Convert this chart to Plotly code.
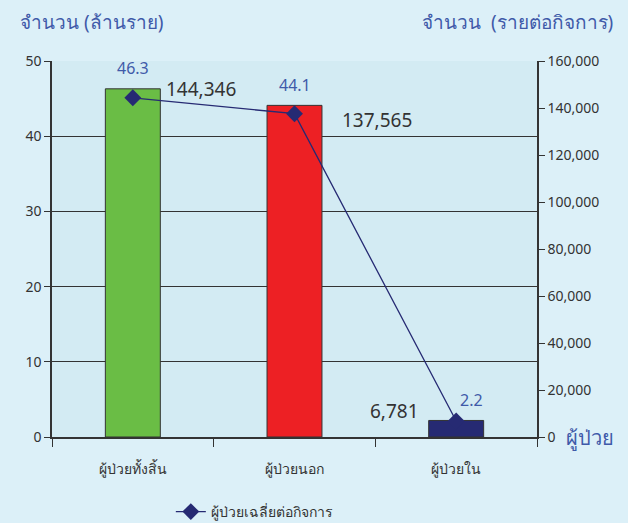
# ผู้ป่วยทั้งสิ้น / นอก / ใน: จำนวน (ล้านราย) และ ผู้ป่วยเฉลี่ยต่อกิจการ
import plotly.graph_objects as go

categories = ['ผู้ป่วยทั้งสิ้น', 'ผู้ป่วยนอก', 'ผู้ป่วยใน']
patients_million = [46.3, 44.1, 2.2]
avg_per_business = [144346, 137565, 6781]
bar_colors = ['#6abd45', '#ed2024', '#262a73']

font_main = 'Noto Sans, Tahoma, sans-serif'
blue_text = '#3f5aa9'
dark_text = '#333333'

fig = go.Figure()

# แท่ง: จำนวน (ล้านราย)
fig.add_trace(go.Bar(
    x=categories, y=patients_million,
    marker=dict(color=bar_colors, line=dict(color='#333333', width=1)),
    showlegend=False, hoverinfo='x+y'))

# เส้น: ผู้ป่วยเฉลี่ยต่อกิจการ
fig.add_trace(go.Scatter(
    x=categories, y=avg_per_business, yaxis='y2',
    mode='lines+markers', name='ผู้ป่วยเฉลี่ยต่อกิจการ',
    line=dict(color='#262a73', width=1.3),
    marker=dict(symbol='diamond', size=13, color='#262a73')))

# ป้ายค่าแท่ง (สีน้ำเงิน)
bar_shift = [(0, 21), (0, 20), (15, 20)]
for c, v, (dx, dy) in zip(categories, patients_million, bar_shift):
    fig.add_annotation(x=c, y=v, text=f'{v:.1f}', showarrow=False,
                       xshift=dx, yshift=dy,
                       font=dict(size=16, color=blue_text, family=font_main))

# ป้ายค่าเส้น (สีดำ)
line_shift = [(68, 9), (82, -6), (-62, 10)]
for c, v, (dx, dy) in zip(categories, avg_per_business, line_shift):
    fig.add_annotation(x=c, y=v, yref='y2', text=f'{v:,}', showarrow=False,
                       xshift=dx, yshift=dy,
                       font=dict(size=19, color=dark_text, family=font_main))

# ชื่อแกน
fig.add_annotation(xref='paper', yref='paper', x=-0.07, y=1.104,
                   xanchor='left', yanchor='middle', showarrow=False,
                   text='จำนวน (ล้านราย)',
                   font=dict(size=19, color=blue_text, family=font_main))
fig.add_annotation(xref='paper', yref='paper', x=1.16, y=1.104,
                   xanchor='right', yanchor='middle', showarrow=False,
                   text='จำนวน&nbsp;&nbsp;(รายต่อกิจการ)',
                   font=dict(size=19, color=blue_text, family=font_main))
fig.add_annotation(xref='paper', yref='paper', x=1.055, y=0,
                   xanchor='left', yanchor='middle', showarrow=False,
                   text='ผู้ป่วย',
                   font=dict(size=20, color=blue_text, family=font_main))

fig.update_layout(
    width=628, height=523,
    margin=dict(l=52, r=91, t=61, b=86),
    paper_bgcolor='#dcf0f8',
    plot_bgcolor='#d3ebf3',
    bargap=0.66,
    font=dict(family=font_main, size=14, color=dark_text),
    xaxis=dict(showline=True, linecolor='#333333', linewidth=1.5,
               ticks='outside', tickson='boundaries', ticklen=8,
               tickcolor='#333333', showgrid=False, automargin=False,
               ticklabelstandoff=18, tickfont=dict(size=14)),
    yaxis=dict(range=[0, 50], dtick=10, showline=True,
               linecolor='#333333', linewidth=1.5, automargin=False,
               ticks='outside', ticklen=6, tickcolor='#333333',
               gridcolor='#333333', gridwidth=1, zeroline=False),
    yaxis2=dict(range=[0, 160000], dtick=20000, overlaying='y',
                side='right', tickformat=',', showline=True,
                linecolor='#333333', linewidth=1.5, ticks='outside',
                ticklen=6, tickcolor='#333333', showgrid=False,
                zeroline=False, automargin=False),
    legend=dict(orientation='h', x=0.245, xanchor='left',
                yref='container', y=0.021, yanchor='middle',
                bgcolor='rgba(0,0,0,0)', font=dict(size=14)),
)

fig.write_html('out.html', config={'displayModeBar': False},
               post_script="document.body.style.margin='0';")
